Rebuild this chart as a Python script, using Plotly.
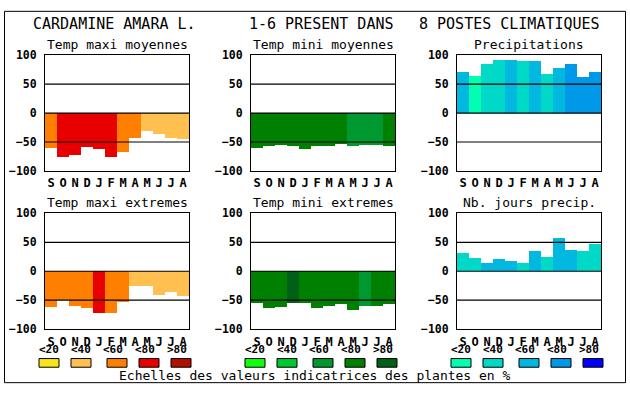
import plotly.graph_objects as go

W, H = 630, 394

months = ["S", "O", "N", "D", "J", "F", "M", "A", "M", "J", "J", "A"]
y_ticks = [-100, -50, 0, 50, 100]
class_labels = ["<20", "<40", "<60", "<80", ">80"]

# values (%) and class index (0:<20 .. 4:>80) per month
tmax_moy = [-61, -76, -72, -59, -63, -76, -68, -43, -31, -37, -43, -46]
tmax_moy_cls = [2, 3, 3, 3, 3, 3, 2, 2, 1, 1, 1, 1]

tmin_moy = [-61, -57, -55, -58, -63, -58, -57, -53, -57, -55, -55, -58]
tmin_moy_cls = [3, 3, 3, 3, 3, 3, 3, 3, 2, 2, 2, 3]

precip = [70, 63, 85, 92, 92, 90, 90, 67, 77, 85, 62, 70]
precip_cls = [2, 0, 1, 1, 2, 1, 2, 1, 2, 3, 3, 3]

tmax_ext = [-62, -50, -61, -64, -72, -72, -54, -26, -26, -41, -37, -44]
tmax_ext_cls = [2, 2, 2, 2, 3, 2, 2, 1, 1, 1, 1, 1]

tmin_ext = [-56, -64, -62, -56, -56, -64, -61, -57, -67, -61, -61, -57]
tmin_ext_cls = [3, 3, 3, 4, 3, 3, 3, 3, 3, 2, 3, 3]

nb_jours = [31, 22, 14, 21, 17, 14, 34, 24, 56, 36, 34, 46]
nb_jours_cls = [1, 1, 2, 2, 2, 1, 2, 1, 2, 2, 1, 1]

title_parts = ["CARDAMINE AMARA L.", "1-6 PRESENT DANS", "8 POSTES CLIMATIQUES"]
subtitles = ["Temp maxi moyennes", "Temp mini moyennes", "Precipitations",
             "Temp maxi extremes", "Temp mini extremes", "Nb. jours precip."]
footer = "Echelles des valeurs indicatrices des plantes en %"

pal_warm = ["#F8E418", "#FFC050", "#FF8000", "#E80000", "#B01000"]
pal_green = ["#10FF10", "#00C830", "#009830", "#008000", "#006018"]
pal_blue = ["#00FFB0", "#00D8C8", "#00B8E0", "#0098E8", "#0000FF"]

panels = [
    (tmax_moy, tmax_moy_cls, pal_warm),
    (tmin_moy, tmin_moy_cls, pal_green),
    (precip, precip_cls, pal_blue),
    (tmax_ext, tmax_ext_cls, pal_warm),
    (tmin_ext, tmin_ext_cls, pal_green),
    (nb_jours, nb_jours_cls, pal_blue),
]

MONO = "DejaVu Sans Mono"
col_x = [45, 251, 457]      # left pixel of each plot column
PW = 144
row_y = [50, 214]            # top pixel of each plot row
PH = 120


def px(x):
    return x / W


def py(y):
    return 1 - y / H


fig = go.Figure()
shapes = []
annotations = []

for i, (vals, cls, pal) in enumerate(panels):
    r, c = divmod(i, 3)
    n = i + 1
    xa = "x" if n == 1 else f"x{n}"
    ya = "y" if n == 1 else f"y{n}"
    fig.add_trace(go.Bar(
        x=list(range(len(months))), y=vals, base=0,
        marker=dict(color=[pal[k] for k in cls], line=dict(width=0)),
        xaxis=xa, yaxis=ya, showlegend=False, hoverinfo="skip",
    ))
    x0, y0 = col_x[c], row_y[r]
    axis_common = dict(showline=True, mirror=True, linecolor="black", linewidth=1,
                       showgrid=False, zeroline=False, fixedrange=True)
    fig.layout[("xaxis" if n == 1 else f"xaxis{n}")] = dict(
        domain=[px(x0), px(x0 + PW)], anchor=ya, range=[-0.5, 11.5],
        tickmode="array", tickvals=list(range(12)), ticktext=months,
        ticks="", ticklabelstandoff=1,
        tickfont=dict(family=MONO, size=12, color="black", weight="bold"),
        **axis_common)
    fig.layout[("yaxis" if n == 1 else f"yaxis{n}")] = dict(
        domain=[py(y0 + PH), py(y0)], anchor=xa, range=[-100, 100],
        tickmode="array", tickvals=y_ticks, ticks="", ticklabelstandoff=5,
        tickfont=dict(family=MONO, size=11.5, color="black", weight="bold"),
        **axis_common)
    xd = (xa + " domain")
    for lv in [-50, 0, 50]:
        shapes.append(dict(type="line", xref=xd, yref=ya, x0=0, x1=1, y0=lv, y1=lv,
                           line=dict(color="black", width=1.2), layer="above"))
    annotations.append(dict(text=subtitles[i], xref="paper", yref="paper",
                            x=px(x0 + PW / 2), y=py(y0 - 11), xanchor="center",
                            yanchor="middle", showarrow=False,
                            font=dict(family=MONO, size=13, color="black")))
    # legend under bottom row
    if r == 1:
        off = col_x[c] - col_x[0]
        box_l = [39, 71, 107, 139, 171]
        lab_c = [49, 81, 113, 145, 177]
        for k in range(5):
            shapes.append(dict(type="rect", xref="paper", yref="paper",
                               x0=px(box_l[k] + off), x1=px(box_l[k] + off + 20),
                               y0=py(373.5), y1=py(364.5),
                               fillcolor=pal[k], line=dict(color="black", width=1)))
            annotations.append(dict(text=class_labels[k], xref="paper", yref="paper",
                                    x=px(lab_c[k] + off), y=py(355), xanchor="center",
                                    yanchor="middle", showarrow=False,
                                    font=dict(family=MONO, size=11, color="black",
                                              weight="bold")))

title_x = [31, 247, 417]
for t, xx in zip(title_parts, title_x):
    annotations.append(dict(text=t, xref="paper", yref="paper", x=px(xx), y=py(18),
                            xanchor="left", yanchor="middle", showarrow=False,
                            font=dict(family=MONO, size=15, color="black")))

annotations.append(dict(text=footer, xref="paper", yref="paper", x=px(315), y=py(382),
                        xanchor="center", yanchor="middle", showarrow=False,
                        font=dict(family=MONO, size=13, color="black")))

shapes.append(dict(type="rect", xref="paper", yref="paper",
                   x0=px(4.5), x1=px(625.5), y0=py(389.5), y1=py(4.5),
                   line=dict(color="black", width=1), layer="below"))

fig.update_layout(width=W, height=H, autosize=False,
                  margin=dict(l=0, r=0, t=0, b=0, pad=0),
                  paper_bgcolor="white", plot_bgcolor="white", bargap=0,
                  shapes=shapes, annotations=annotations)

fig.write_html("out.html",
               config={"displayModeBar": False, "responsive": False},
               post_script="document.body.style.margin='0';document.body.style.padding='0';"
                           "document.documentElement.style.overflow='hidden';")
